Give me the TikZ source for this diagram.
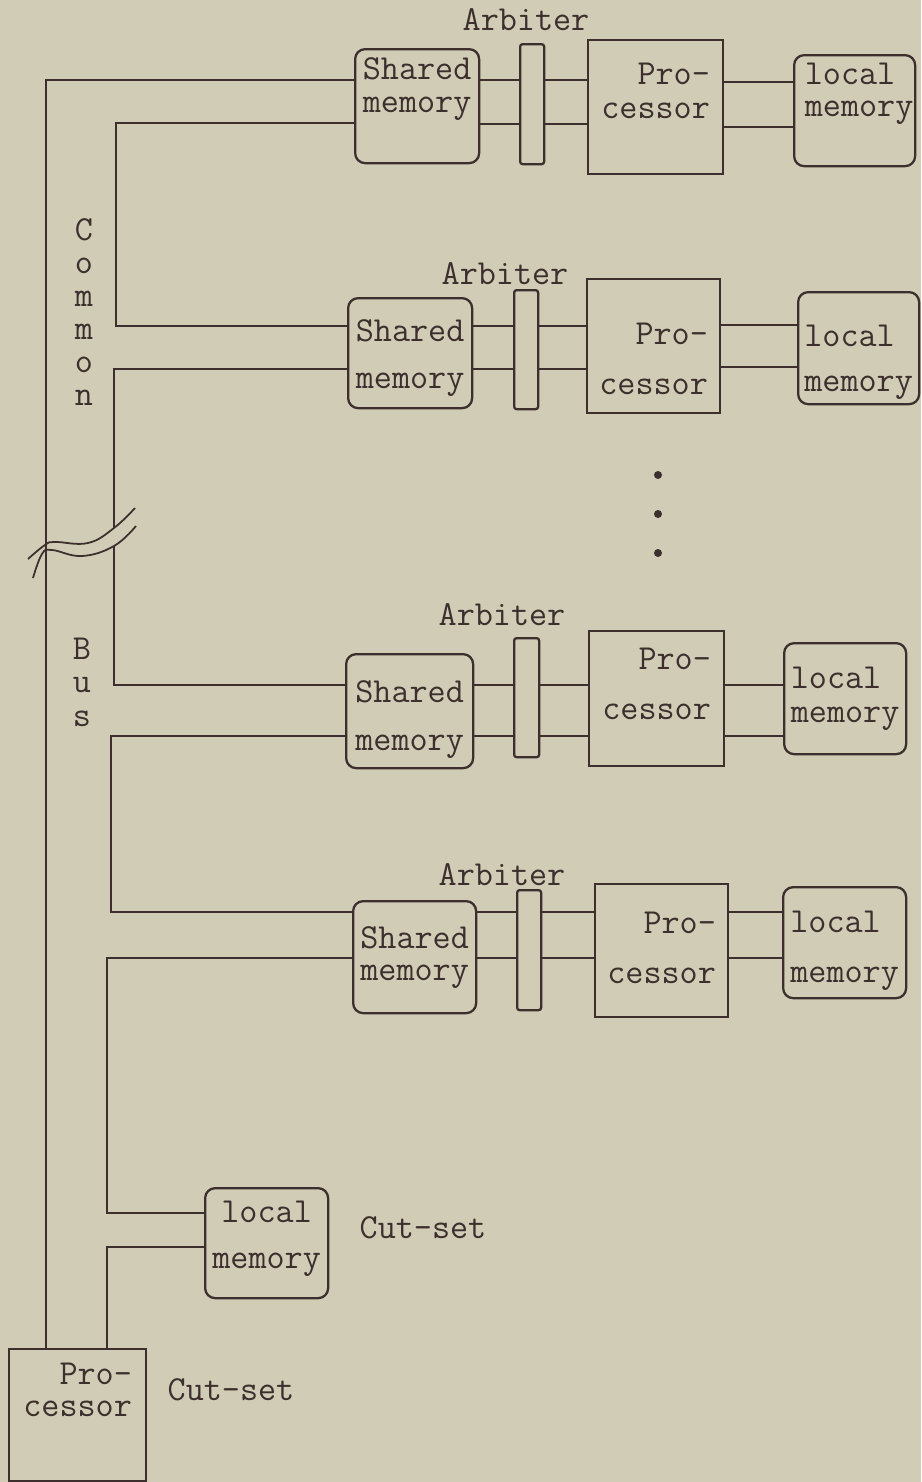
\documentclass[tikz,border=0pt]{standalone}
\usepackage{tikz}
\usetikzlibrary{positioning}

\definecolor{paper}{RGB}{208,204,181}
\definecolor{inkc}{RGB}{60,47,45}

\tikzset{
  membox/.style={rectangle, draw=inkc, line width=1.3pt, rounded corners=0.2cm, inner sep=0pt, anchor=north west},
  cpubox/.style={membox, sharp corners},
  arbbar/.style={membox, rounded corners=0.05cm},
  sz/.style 2 args={minimum width=#1*0.02cm, minimum height=#2*0.02cm},
  wire/.style={draw=inkc, line width=1pt},
  tw/.style={font={\fontsize{20}{#1}\selectfont\ttfamily}, text=inkc, inner sep=0pt, align=center},
  tw/.default=24
}

\begin{document}
\begin{tikzpicture}[x=0.02cm, y=-0.02cm]
\fill[paper] (0,0) rectangle (921,1482);
\useasboundingbox (0,0) rectangle (921,1482);

% row 1
\node[tw, anchor=base] (arb1) at (526,30) {Arbiter};
\node[membox, sz={124}{114}] (sm1) at (354,48) {};
\node[arbbar, sz={24}{120}] (ab1) at (519,43) {};
\node[cpubox, sz={135}{134}] (pr1) at (587,39) {};
\node[membox, sz={121}{111}] (lm1) at (793,54) {};
\node[tw=18.8] (sm1t) at ([yshift=0.34cm]sm1.center) {Shared\\memory};
\node[tw=19.3, align=right] (pr1t) at ([yshift=0.32cm]pr1.center) {Pro-\\cessor};
\node[tw=18.2, align=left] (lm1t) at ([xshift=0.09cm, yshift=0.33cm]lm1.center) {local\\memory};

% row 2
\node[tw, anchor=base] (arb2) at (505,284) {Arbiter};
\node[membox, sz={124}{110}] (sm2) at (347,297) {};
\node[arbbar, sz={24}{119}] (ab2) at (513,289) {};
\node[cpubox, sz={133}{134}] (pr2) at (586,278) {};
\node[membox, sz={121}{112}] (lm2) at (797,291) {};
\node[tw=26.7] (sm2t) at ([yshift=-0.1cm]sm2.center) {Shared\\memory};
\node[tw=28.5, align=right] (pr2t) at ([yshift=-0.26cm]pr2.center) {Pro-\\cessor};
\node[tw=25.6, align=left] (lm2t) at ([yshift=-0.28cm]lm2.center) {local\\memory};

% dots
\fill[inkc] (658,475) circle (0.08cm);
\fill[inkc] (658,514) circle (0.08cm);
\fill[inkc] (658,553) circle (0.08cm);

% row 3
\node[tw, anchor=base] (arb3) at (502,625) {Arbiter};
\node[membox, sz={127}{114}] (sm3) at (345,653) {};
\node[arbbar, sz={25}{119}] (ab3) at (513,637) {};
\node[cpubox, sz={135}{135}] (pr3) at (588,630) {};
\node[membox, sz={122}{111}] (lm3) at (783,642) {};
\node[tw=27.3] (sm3t) at ([yshift=-0.16cm]sm3.center) {Shared\\memory};
\node[tw=28.5, align=right] (pr3t) at ([yshift=0.29cm]pr3.center) {Pro-\\cessor};
\node[tw=19.3, align=left] (lm3t) at (lm3.center) {local\\memory};

% row 4
\node[tw, anchor=base] (arb4) at (502,885) {Arbiter};
\node[membox, sz={123}{112}] (sm4) at (352,900) {};
\node[arbbar, sz={24}{120}] (ab4) at (516,889) {};
\node[cpubox, sz={133}{133}] (pr4) at (594,883) {};
\node[membox, sz={123}{111}] (lm4) at (782,886) {};
\node[tw=18.2] (sm4t) at (sm4.center) {Shared\\memory};
\node[tw=28.5, align=right] (pr4t) at ([yshift=0.05cm]pr4.center) {Pro-\\cessor};
\node[tw=28.5, align=left] (lm4t) at ([yshift=-0.16cm]lm4.center) {local\\memory};

% cut-set end
\node[membox, sz={123}{110}] (lm5) at (204,1187) {};
\node[cpubox, sz={137}{132}] (pr5) at (8,1348) {};
\node[tw=26.2] (lm5t) at ([yshift=0.08cm]lm5.center) {local\\memory};
\node[tw=18.2, align=right] (pr5t) at ([yshift=0.5cm]pr5.center) {Pro-\\cessor};
\node[tw, anchor=base] (cut1) at (423,1238) {Cut-set};
\node[tw, anchor=base] (cut2) at (231,1400) {Cut-set};

% bus labels
\node[tw=18.8] (common) at (84,312) {C\\o\\m\\m\\o\\n};
\node[tw=19.1] (bus) at (82,682) {B\\u\\s};

% module wires
\draw[wire] (sm1.east |- 0,80) -- (ab1.west |- 0,80) (ab1.east |- 0,80) -- (pr1.west |- 0,80);
\draw[wire] (sm1.east |- 0,124) -- (ab1.west |- 0,124) (ab1.east |- 0,124) -- (pr1.west |- 0,124);
\draw[wire] (pr1.east |- 0,82) -- (lm1.west |- 0,82);
\draw[wire] (pr1.east |- 0,127) -- (lm1.west |- 0,127);

\draw[wire] (sm2.east |- 0,326) -- (ab2.west |- 0,326) (ab2.east |- 0,326) -- (pr2.west |- 0,326);
\draw[wire] (sm2.east |- 0,369) -- (ab2.west |- 0,369) (ab2.east |- 0,369) -- (pr2.west |- 0,369);
\draw[wire] (pr2.east |- 0,325) -- (lm2.west |- 0,325);
\draw[wire] (pr2.east |- 0,367) -- (lm2.west |- 0,367);

\draw[wire] (sm3.east |- 0,685) -- (ab3.west |- 0,685) (ab3.east |- 0,685) -- (pr3.west |- 0,685);
\draw[wire] (sm3.east |- 0,736) -- (ab3.west |- 0,736) (ab3.east |- 0,736) -- (pr3.west |- 0,736);
\draw[wire] (pr3.east |- 0,685) -- (lm3.west |- 0,685);
\draw[wire] (pr3.east |- 0,736) -- (lm3.west |- 0,736);

\draw[wire] (sm4.east |- 0,912) -- (ab4.west |- 0,912) (ab4.east |- 0,912) -- (pr4.west |- 0,912);
\draw[wire] (sm4.east |- 0,958) -- (ab4.west |- 0,958) (ab4.east |- 0,958) -- (pr4.west |- 0,958);
\draw[wire] (pr4.east |- 0,912) -- (lm4.west |- 0,912);
\draw[wire] (pr4.east |- 0,958) -- (lm4.west |- 0,958);

% common bus
\coordinate (cutA) at (114,528);
\coordinate (cutB) at (114,546);
\draw[wire] (sm1.west |- 0,80) -| (pr5.north -| 46,0);
\draw[wire] (sm1.west |- 0,123) -| (116,326) -- (sm2.west |- 0,326);
\draw[wire] (sm2.west |- 0,369) -| (cutA);
\draw[wire] (cutB) |- (sm3.west |- 0,685);
\draw[wire] (sm3.west |- 0,736) -| (111,912) -- (sm4.west |- 0,912);
\draw[wire] (sm4.west |- 0,958) -| (107,1213) -- (lm5.west |- 0,1213);
\draw[wire] (lm5.west |- 0,1247) -| (pr5.north -| 107,0);

% break marks
\draw[wire] plot[smooth, tension=0.7] coordinates {(28,559) (45,545) (55,542) (88,543) (114,528) (135,508)};
\draw[wire] plot[smooth, tension=0.7] coordinates {(33,578) (42,554) (52,550) (82,556) (114,546) (136,526)};
\end{tikzpicture}
\end{document}
